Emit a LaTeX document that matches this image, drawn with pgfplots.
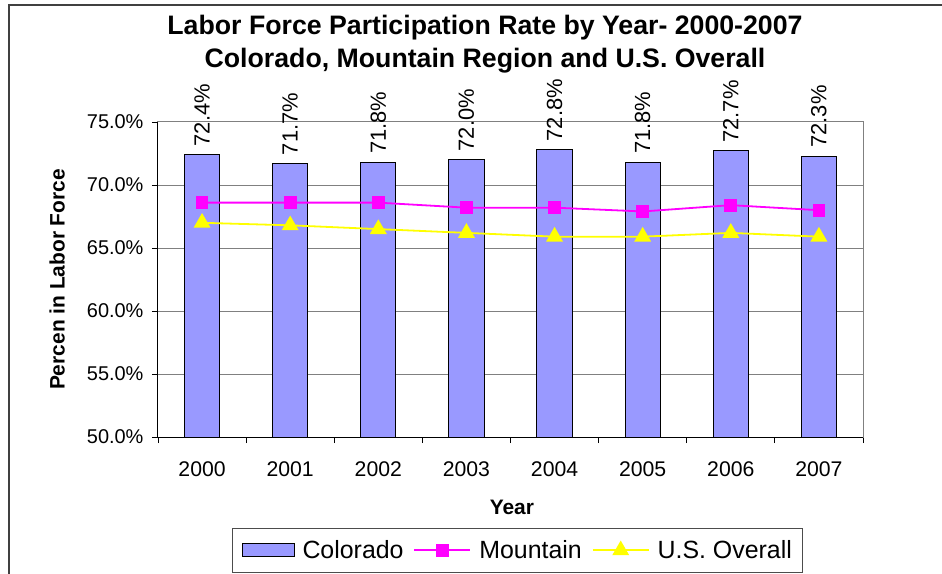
\documentclass[border=0pt]{standalone}
\usepackage{pgfplots}
\pgfplotsset{compat=1.18}
\usepackage{fontspec}
\setmainfont{Liberation Sans}
\definecolor{barblue}{HTML}{9999FF}
\definecolor{mtn}{HTML}{FF00FF}
\definecolor{usy}{HTML}{FFFF00}
\definecolor{gridgray}{HTML}{808080}
\pgfplotsset{
  barlegend/.style={legend image code/.code={\draw[##1,/tikz/.cd] (0bp,-6bp) rectangle (52bp,7bp);}},
  linelegend/.style={legend image code/.code={\draw[##1, mark repeat=2, mark phase=2] plot coordinates {(0bp,0bp) (28bp,0bp) (56bp,0bp)};}},
}

\begin{document}
\begin{tikzpicture}
\begin{axis}[
 name=ax,
 width=705bp, height=315bp, scale only axis,
 xmin=-0.5, xmax=7.5, ymin=50, ymax=75,
 xtick={0,...,7}, xticklabels={2000,2001,2002,2003,2004,2005,2006,2007},
 minor xtick={-0.5,0.5,...,7.5},
 ytick={50,55,...,75},
 yticklabel={\pgfmathprintnumber[fixed,fixed zerofill,precision=1]{\tick}\%},
 /pgf/number format/assume math mode=true,
 tick align=outside, major tick length=6bp, minor tick length=6bp,
 xtick pos=bottom, ytick pos=left,
 xtick style={draw=none}, minor x tick style={draw=black, line width=0.8bp},
 ytick style={black, line width=0.8bp},
 ymajorgrids, grid style={gridgray, line width=1bp},
 axis line style={gridgray, line width=1bp},
 tick label style={font=\fontsize{20}{24}\selectfont},
 xticklabel style={yshift=-15bp, font=\fontsize{21.3}{25}\selectfont},
 yticklabel style={xshift=-5bp},
 xlabel={Year}, ylabel={Percen in Labor Force},
 every axis y label/.style={at={(axis description cs:-0.143,0.5)}, rotate=90, anchor=center, font=\fontsize{21}{25}\selectfont\bfseries},
 every axis x label/.style={at={(axis description cs:0.502,-0.225)}, anchor=center, font=\fontsize{21}{25}\selectfont\bfseries},
 legend style={at={(axis description cs:0.105,-0.289)}, anchor=north west, legend columns=3, draw=black!70, line width=1bp, font=\fontsize{25}{29}\selectfont, inner xsep=9bp, inner ysep=10bp,
   /tikz/every even column/.append style={column sep=8bp},
   /tikz/every odd column/.append style={column sep=6bp}},
 clip=false,
]
\addplot[ybar, bar width=0.4, fill=barblue, draw=black, line width=1bp,
  nodes near coords={\pgfmathprintnumber[fixed,fixed zerofill,precision=1]{\pgfplotspointmeta}\%},
  every node near coord/.append style={rotate=90, anchor=west, font=\fontsize{22}{26}\selectfont, black, inner sep=8bp},
  barlegend]
 coordinates {(0,72.4) (1,71.7) (2,71.8) (3,72.0) (4,72.8) (5,71.8) (6,72.7) (7,72.3)};
\addlegendentry{Colorado}
\addplot[mtn, line width=1.8bp, mark=square*, mark size=5.5bp, mark options={fill=mtn, draw=mtn}, linelegend]
 coordinates {(0,68.6) (1,68.6) (2,68.6) (3,68.2) (4,68.2) (5,67.9) (6,68.4) (7,68.0)};
\addlegendentry{Mountain}
\addplot[usy, line width=1.8bp, mark=triangle*, mark size=8bp, mark options={fill=usy, draw=usy}, linelegend]
 coordinates {(0,67.0) (1,66.8) (2,66.5) (3,66.2) (4,65.9) (5,65.9) (6,66.2) (7,65.9)};
\addlegendentry{U.S. Overall}
\draw[black, line width=1bp] (rel axis cs:0,1) -- (rel axis cs:0,0) -- (rel axis cs:1,0);
\draw[line width=1.3bp, black!75] (rel axis cs:-0.21135,-0.6) -- (rel axis cs:-0.21135,1.37143) -- (rel axis cs:1.2,1.37143);
\node[align=center, font=\fontsize{26.8}{33}\selectfont\bfseries] at (rel axis cs:0.46383,1.24762) {Labor Force Participation Rate by Year- 2000-2007\\Colorado, Mountain Region and U.S. Overall};
\coordinate (pageSW) at (rel axis cs:-0.22411,-0.43175);
\coordinate (pageNE) at (rel axis cs:1.11206,1.38730);
\end{axis}
\pgfresetboundingbox
\path[use as bounding box] (pageSW) rectangle (pageNE);
\end{tikzpicture}
\end{document}
